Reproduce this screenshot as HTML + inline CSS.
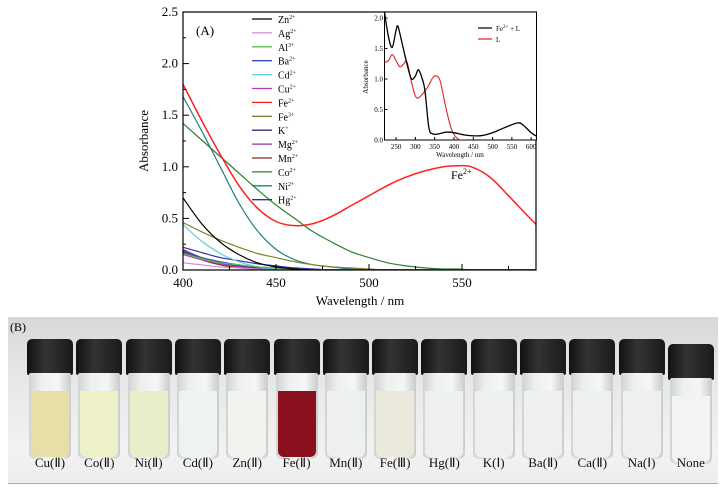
<!DOCTYPE html>
<html><head><meta charset="utf-8"><style>
body{margin:0;width:728px;height:488px;background:#fff;position:relative;overflow:hidden;font-family:"Liberation Serif",serif}
svg{position:absolute;left:0;top:0}
.photo{position:absolute;left:8px;top:317px;width:710px;height:166px;background:linear-gradient(#d8d8d8,#e8e8e8 40%,#f2f2f2 80%,#eee);border-bottom:1px solid #aaa}
.vial{position:absolute;width:46px}
.cap{position:absolute;left:0;top:0;width:46px;height:36px;background:linear-gradient(90deg,#111,#333 40%,#1a1a1a);border-radius:5px 5px 2px 2px}
.body{position:absolute;left:2px;top:34px;width:42px;height:86px;background:linear-gradient(90deg,#cfd3d3,#eef0f0 30%,#f5f6f6 70%,#c8cccc);border-radius:2px 2px 6px 6px}
.liq{position:absolute;left:2px;width:38px;bottom:2px;border-radius:0 0 6px 6px}
.lab{position:absolute;top:138px;font-size:13px;width:60px;text-align:center;color:#111}
</style></head><body>
<svg width="728" height="310" id="chart"></svg>
<div class="photo" id="photo">
<div style="position:absolute;left:2px;top:3px;font-size:12px">(B)</div>
</div>
<script>
const NS="http://www.w3.org/2000/svg";
const svg=document.getElementById('chart');
function el(t,a,p){const e=document.createElementNS(NS,t);for(const k in a)e.setAttribute(k,a[k]);(p||svg).appendChild(e);return e;}
// main chart data
const seriesNames=["Zn2+","Ag2+","Al3+","Ba2+","Cd2+","Cu2+","Fe2+","Fe3+","K+","Mg2+","Mn2+","Co2+","Ni2+","Hg2+"];
const legendLabels=[["Zn","2+"],["Ag","2+"],["Al","3+"],["Ba","2+"],["Cd","2+"],["Cu","2+"],["Fe","2+"],["Fe","3+"],["K","+"],["Mg","2+"],["Mn","2+"],["Co","2+"],["Ni","2+"],["Hg","2+"]];
const seriesColors=["#000","#d98ad9","#5ec24a","#3050c0","#60d0e0","#b040b0","#ff2020","#808030","#303080","#9030a0","#803020","#308030","#208080","#3030a0"];
const wl=[400,410,420,430,440,450,460,470,480,490,500,510,520,530,540,548,555,565,575,585,592];
const vZn=[0.70,0.45,0.27,0.15,0.07,0.03,0.01,0,0,0,0,0,0,0,0,0,0,0,0,0,0];
const vAg=[0.07,0.05,0.03,0.02,0.01,0,0,0,0,0,0,0,0,0,0,0,0,0,0,0,0];
const vAl=[0.16,0.11,0.07,0.05,0.03,0.02,0.01,0,0,0,0,0,0,0,0,0,0,0,0,0,0];
const vBa=[0.18,0.12,0.08,0.05,0.03,0.02,0.01,0,0,0,0,0,0,0,0,0,0,0,0,0,0];
const vCd=[0.44,0.28,0.16,0.08,0.03,0.01,0,0,0,0,0,0,0,0,0,0,0,0,0,0,0];
const vCu=[0.15,0.1,0.06,0.03,0.01,0,0,0,0,0,0,0,0,0,0,0,0,0,0,0,0];
const vFe2=[1.80,1.45,1.12,0.82,0.60,0.47,0.43,0.45,0.52,0.62,0.72,0.82,0.90,0.96,1.00,1.01,1.00,0.90,0.72,0.53,0.40];
const vFe3=[0.46,0.37,0.29,0.22,0.16,0.12,0.08,0.05,0.03,0.02,0.01,0,0,0,0,0,0,0,0,0,0];
const vK=[0.17,0.11,0.07,0.04,0.02,0.01,0,0,0,0,0,0,0,0,0,0,0,0,0,0,0];
const vMg=[0.2,0.12,0.07,0.04,0.02,0.01,0,0,0,0,0,0,0,0,0,0,0,0,0,0,0];
const vMn=[0.19,0.1,0.05,0.02,0.01,0,0,0,0,0,0,0,0,0,0,0,0,0,0,0,0];
const vCo=[1.42,1.26,1.10,0.94,0.78,0.63,0.50,0.37,0.27,0.18,0.12,0.07,0.04,0.02,0.01,0.01,0,0,0,0,0];
const vNi=[1.68,1.35,1.00,0.65,0.38,0.20,0.10,0.05,0.03,0.01,0,0,0,0,0,0,0,0,0,0,0];
const vHg=[0.22,0.17,0.12,0.09,0.06,0.04,0.02,0.01,0,0,0,0,0,0,0,0,0,0,0,0,0];
const seriesVals=[vZn,vAg,vAl,vBa,vCd,vCu,vFe2,vFe3,vK,vMg,vMn,vCo,vNi,vHg];
const xTicks=[400,450,500,550];
const yTicks=[0,0.5,1.0,1.5,2.0,2.5];
// inset data
const iwl1=[220,230,240,250,255,265,280,290,300,308,318,325,335,345,360,380,400,430,470,500,530,565,580,600,625];
const iFeL=[2.1,1.7,1.52,1.8,1.86,1.6,1.2,1.0,1.05,1.15,1.0,0.8,0.2,0.1,0.1,0.13,0.12,0.08,0.07,0.12,0.2,0.28,0.24,0.12,0.02];
const iwl2=[220,230,240,250,260,270,278,290,300,310,330,345,355,365,380,395,410,420];
const iL=[1.27,1.3,1.4,1.3,1.2,1.25,1.28,0.95,0.72,0.7,0.85,1.02,1.05,0.95,0.5,0.15,0.02,0];
const ixTicks=[250,300,350,400,450,500,550,600];
const iyTicks=[0,0.5,1.0,1.5,2.0];

const X=w=>183+(w-400)*93/50, Y=v=>270-v*103.2;
const IX=w=>384.5+(w-220)*0.386, IY=v=>140-v*61;
function path(xs,ys,fx,fy){
 const P=xs.map((x,i)=>[fx(x),fy(ys[i])]);
 let d='M'+P[0][0].toFixed(1)+','+P[0][1].toFixed(1);
 for(let i=0;i<P.length-1;i++){
  const p0=P[Math.max(0,i-1)],p1=P[i],p2=P[i+1],p3=P[Math.min(P.length-1,i+2)];
  const c1x=p1[0]+(p2[0]-p0[0])/6,c1y=p1[1]+(p2[1]-p0[1])/6;
  const c2x=p2[0]-(p3[0]-p1[0])/6,c2y=p2[1]-(p3[1]-p1[1])/6;
  d+='C'+c1x.toFixed(1)+','+Math.min(c1y,270).toFixed(1)+' '+c2x.toFixed(1)+','+Math.min(c2y,270).toFixed(1)+' '+p2[0].toFixed(1)+','+p2[1].toFixed(1);
 }
 return d;}

const clip=el('clipPath',{id:'c1'});el('rect',{x:183,y:12,width:353,height:258},clip);
const g=el('g',{'clip-path':'url(#c1)'});
for(let s=seriesVals.length-1;s>=0;s--){
 const p=el('path',{d:path(wl,seriesVals[s],X,Y),fill:'none',stroke:seriesColors[s],'stroke-width':s==6?1.5:1.2},g);
 
 
}
el('rect',{x:183,y:12,width:353,height:258,fill:'none',stroke:'#000','stroke-width':1.2});
for(const t of xTicks){el('line',{x1:X(t),x2:X(t),y1:270,y2:264,stroke:'#000'});
 const tx=el('text',{x:X(t),y:287,'font-size':13,'text-anchor':'middle'});tx.textContent=t;
 }
for(const t of [425,475,525,575]) el('line',{x1:X(t),x2:X(t),y1:270,y2:266,stroke:'#000'});
for(const t of yTicks){el('line',{x1:183,x2:189,y1:Y(t),y2:Y(t),stroke:'#000'});
 const tx=el('text',{x:178,y:Y(t)+4,'font-size':13,'text-anchor':'end'});tx.textContent=t.toFixed(1);
 }
for(let t=0.25;t<2.5;t+=0.5) el('line',{x1:183,x2:186,y1:Y(t),y2:Y(t),stroke:'#000'});
let t1=el('text',{x:360,y:305,'font-size':13,'text-anchor':'middle'});t1.textContent='Wavelength / nm';

let t2=el('text',{x:0,y:0,'font-size':13,'text-anchor':'middle',transform:'translate(148,141) rotate(-90)'});t2.textContent='Absorbance';

let t3=el('text',{x:196,y:35,'font-size':13});t3.textContent='(A)';

let t4=el('text',{x:451,y:179,'font-size':12});t4.innerHTML='Fe<tspan font-size="8" dy="-5">2+</tspan>';

legendLabels.forEach((l,i)=>{const y=19+i*13.9;
 const ln=el('line',{x1:252,x2:272,y1:y,y2:y,stroke:seriesColors[i],'stroke-width':1.3});
 
 const tx=el('text',{x:278,y:y+4,'font-size':10});tx.innerHTML=l[0]+'<tspan font-size="6" dy="-4">'+l[1]+'</tspan>';
 });
// inset
const ig=el('g',{});
el('rect',{x:384.5,y:12,width:152,height:128,fill:'#fff',stroke:'#000','stroke-width':1},ig);
const c2=el('clipPath',{id:'c2'});el('rect',{x:384.5,y:12,width:152,height:128},c2);
const ig2=el('g',{'clip-path':'url(#c2)'},ig);
let p1=el('path',{d:path(iwl2,iL,IX,IY),fill:'none',stroke:'#e02020','stroke-width':1.1},ig2);

let p2=el('path',{d:path(iwl1,iFeL,IX,IY),fill:'none',stroke:'#000','stroke-width':1.3},ig2);

for(const t of ixTicks){el('line',{x1:IX(t),x2:IX(t),y1:140,y2:137,stroke:'#000'},ig);
 const tx=el('text',{x:IX(t),y:149,'font-size':7,'text-anchor':'middle'},ig);tx.textContent=t;
 }
for(const t of iyTicks){el('line',{x1:384.5,x2:387.5,y1:IY(t),y2:IY(t),stroke:'#000'},ig);
 const tx=el('text',{x:383,y:IY(t)+2.5,'font-size':7,'text-anchor':'end'},ig);tx.textContent=t.toFixed(1);
 }
let it=el('text',{x:460,y:157,'font-size':7,'text-anchor':'middle'},ig);it.textContent='Wavelength / nm';

let iy=el('text',{x:0,y:0,'font-size':7,'text-anchor':'middle',transform:'translate(368,77) rotate(-90)'},ig);iy.textContent='Absorbance';

el('line',{x1:478,x2:492,y1:28,y2:28,stroke:'#000','stroke-width':1.2},ig);
el('line',{x1:478,x2:492,y1:39,y2:39,stroke:'#e02020','stroke-width':1.2},ig);
let il1=el('text',{x:496,y:31,'font-size':7},ig);il1.innerHTML='Fe<tspan font-size="5" dy="-3">2+</tspan><tspan dy="3"> + L</tspan>';

let il2=el('text',{x:496,y:42,'font-size':7},ig);il2.textContent='L';


// photo vials
const vialLabels=["Cu(Ⅱ)","Co(Ⅱ)","Ni(Ⅱ)","Cd(Ⅱ)","Zn(Ⅱ)","Fe(Ⅱ)","Mn(Ⅱ)","Fe(Ⅲ)","Hg(Ⅱ)","K(Ⅰ)","Ba(Ⅱ)","Ca(Ⅱ)","Na(Ⅰ)","None"];
const liqColors=["#e6dfa8","#eef0c8","#e8efc8","#eef2f0","#f0f3ee","#8a1020","#eef0f0","#ebe8dc","#eef0f0","#eef0f0","#eef0f0","#eef0f0","#eef0f0","#f2f3f3"];
const ph=document.getElementById('photo');
vialLabels.forEach((l,i)=>{const cx=50+i*49.3-8;
 const v=document.createElement('div');v.className='vial';v.style.left=(cx-23)+'px';v.style.top=(i==13?27:22)+'px';
 
 
 v.innerHTML='<div class="cap"></div><div class="body"><div class="liq" style="height:66px;background:'+liqColors[i]+'"></div></div>';
 ph.appendChild(v);
 const t=document.createElement('div');t.className='lab';t.style.left=(cx-30)+'px';t.textContent=l;
 
 
 ph.appendChild(t);});
</script>
</body></html>
